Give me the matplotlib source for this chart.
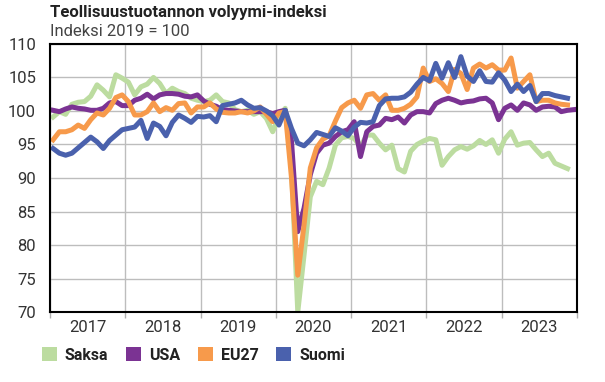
import numpy as np
import matplotlib.pyplot as plt
from matplotlib.patches import Patch

# kuukausidata 1/2017 - 12/2023, indeksi 2019 = 100
years = ["2017", "2018", "2019", "2020", "2021", "2022", "2023"]
nan = np.nan

saksa = [99.1, 99.9, 99.5, 101.0, 101.3, 101.4, 102.2, 103.9, 103.1, 102.1, 105.4, 104.9,
         104.3, 102.4, 103.6, 104.0, 105.0, 104.1, 102.6, 103.4, 102.9, 102.6, 101.9, 101.6,
         101.4, 101.6, 102.4, 101.4, 101.2, 100.2, 99.9, 100.1, 99.5, 99.9, 98.9, 96.9,
         99.1, 100.4, 91.5, 70.0, 78.5, 87.2, 89.5, 89.0, 91.5, 94.9, 96.0, 96.2,
         95.9, 94.7, 96.4, 96.4, 95.2, 94.2, 94.9, 91.4, 90.9, 94.0, 95.0, 95.5,
         95.9, 95.7, 91.9, 93.2, 94.2, 94.7, 94.3, 94.8, 95.6, 95.0, 95.7, 93.7,
         95.8, 96.9, 94.9, 95.2, 95.3, 94.2, 93.2, 93.7, 92.2, 91.8, 91.4, nan]

usa = [100.1, 99.9, 100.3, 100.6, 100.4, 100.3, 100.1, 100.1, 100.4, 101.2, 101.4, 100.8,
       100.8, 101.6, 101.9, 102.5, 101.8, 102.4, 102.6, 102.6, 102.5, 102.2, 102.1, 102.4,
       101.5, 101.0, 100.7, 100.2, 100.1, 100.0, 99.9, 99.9, 99.9, 99.9, 99.9, 99.6,
       99.9, 100.1, 95.5, 82.0, 85.5, 90.5, 93.7, 94.9, 95.2, 96.2, 96.9, 97.2,
       98.4, 93.2, 96.9, 97.7, 97.9, 98.9, 98.7, 99.1, 98.2, 99.4, 99.9, 99.9,
       99.7, 101.1, 101.6, 101.9, 101.6, 101.2, 101.4, 101.5, 101.8, 101.9, 101.2, 98.7,
       100.4, 100.9, 100.1, 101.2, 100.9, 100.1, 100.6, 100.7, 100.6, 99.9, 100.1, 100.2]

eu27 = [95.7, 96.9, 96.9, 97.2, 97.9, 97.4, 98.7, 99.7, 99.4, 100.4, 102.0, 102.4,
        101.4, 99.4, 99.4, 99.9, 101.2, 99.9, 100.5, 100.1, 101.1, 101.2, 99.7, 100.6,
        100.6, 101.2, 100.3, 99.8, 99.7, 99.7, 99.9, 99.7, 100.0, 100.6, 99.5, 98.4,
        99.7, 99.9, 90.0, 75.5, 83.0, 91.5, 94.5, 95.8, 96.3, 98.5, 100.5, 101.2,
        101.6, 100.4, 102.4, 102.6, 101.6, 102.4, 100.1, 100.1, 100.4, 101.0, 102.1, 106.4,
        104.4, 104.8, 104.1, 102.9, 106.2, 105.6, 103.2, 106.4, 107.0, 106.4, 106.9, 106.1,
        106.1, 107.9, 103.4, 104.4, 105.4, 101.4, 101.6, 101.6, 101.2, 101.0, 100.9, nan]

suomi = [94.4, 93.7, 93.4, 93.7, 94.5, 95.3, 96.1, 95.4, 94.4, 95.6, 96.4, 97.2,
         97.4, 97.6, 98.6, 95.9, 98.2, 97.7, 96.3, 98.3, 99.4, 98.9, 98.3, 99.2,
         99.1, 99.3, 98.4, 100.8, 101.0, 101.2, 101.6, 100.9, 100.4, 100.5, 100.0, 99.3,
         97.9, 100.1, 97.4, 95.2, 94.8, 95.7, 96.8, 96.5, 96.2, 97.5, 97.0, 96.3,
         97.6, 98.3, 98.2, 98.4, 100.8, 101.8, 101.9, 101.9, 102.1, 102.8, 104.0, 105.0,
         104.5, 107.1, 104.9, 107.2, 105.0, 108.1, 105.2, 104.4, 106.0, 104.4, 104.3, 105.7,
         104.6, 102.9, 104.0, 102.9, 103.8, 101.4, 102.6, 102.6, 102.3, 102.1, 101.9, nan]

series = [("Saksa", saksa, "#bcdca0"),
          ("USA", usa, "#7b3393"),
          ("EU27", eu27, "#f79a4b"),
          ("Suomi", suomi, "#4a61ad")]

plt.rcParams['font.family'] = ['Roboto', 'DejaVu Sans']

fig = plt.figure(figsize=(6.05, 3.82), dpi=100)
ax = fig.add_axes([0.0826, 0.183, 0.871, 0.702])

n = len(saksa)
x = np.arange(n) + 0.5
for name, vals, col in series:
    ax.plot(x, vals, color=col, lw=3.6, solid_joinstyle='round', label=name)

ax.set_xlim(0, n)
ax.set_ylim(70, 110)
ax.set_yticks(np.arange(70, 111, 5))
ax.set_xticks(np.arange(0, n + 1, 12))
ax.set_xticklabels([])
ax.set_xticks(np.arange(6, n, 12), minor=True)
ax.set_xticklabels(years, minor=True)
ax.tick_params(axis='x', which='major', length=4, color='#b0b0b0', width=1)
ax.tick_params(axis='x', which='minor', length=0, labelsize=12, colors='#333333', pad=6)
ax.tick_params(axis='y', length=0, labelsize=12, colors='#333333', pad=10)
ax.grid(True, which='major', color='#bdbdbd', lw=1)
ax.set_axisbelow(True)
for s in ax.spines.values():
    s.set_color('black')
    s.set_linewidth(1.5)

fig.text(0.083, 0.955, "Teollisuustuotannon volyymi-indeksi", fontsize=12,
         fontweight='bold', color='#222222', va='baseline')
fig.text(0.083, 0.905, "Indeksi 2019 = 100", fontsize=12, color='#444444', va='baseline')

handles = [Patch(facecolor=c, edgecolor='none') for _, _, c in series]
leg = fig.legend(handles, [s[0] for s in series], loc='center left',
                 bbox_to_anchor=(0.069, 0.071), ncol=4, frameon=False,
                 borderpad=0, borderaxespad=0,
                 handlelength=0.95, handleheight=0.95, handletextpad=0.5,
                 columnspacing=1.1, prop={'size': 11.5, 'weight': 'bold'})
for t in leg.get_texts():
    t.set_color('#222222')

fig.savefig("out.png", dpi=100)
